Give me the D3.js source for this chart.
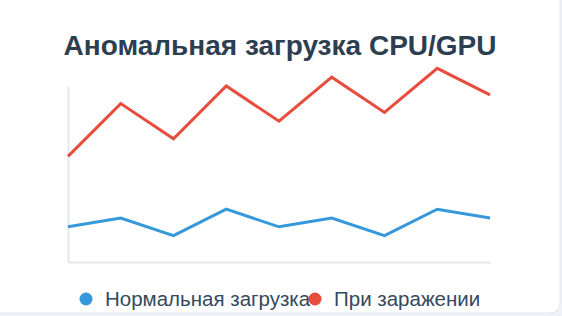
<!DOCTYPE html>
<html lang="ru"><head>
<meta charset="utf-8">
<title>Аномальная загрузка CPU/GPU</title>
<script src="https://cdnjs.cloudflare.com/ajax/libs/d3/7.8.5/d3.min.js"></script>
<style>
  html, body { margin: 0; padding: 0; background: #eef1f5; }
  svg { display: block; font-family: "Liberation Sans", Arial, Helvetica, sans-serif; }
</style>
</head>
<body>
<div id="chart"></div>
<script>
var points = ["1", "2", "3", "4", "5", "6", "7", "8", "9"];
var normal = [20, 25, 15, 30, 20, 25, 15, 30, 25];
var infected = [60, 90, 70, 100, 80, 105, 85, 110, 95];
var seriesNames = ["Нормальная загрузка", "При заражении"];
var seriesColors = ["#3498db", "#e74c3c"];

var W = 562, H = 316;
var svg = d3.select("#chart").append("svg").attr("width", W).attr("height", H);

// card
svg.append("rect").attr("x", -10).attr("y", -10).attr("width", 570).attr("height", 323)
  .attr("rx", 10).attr("fill", "#fff").attr("stroke", "#e3e7ec").attr("stroke-width", 1);

svg.append("text").attr("x", 280).attr("y", 55).attr("text-anchor", "middle")
  .attr("font-size", 28).attr("font-weight", "bold").attr("fill", "#2c3e50")
  .text("Аномальная загрузка CPU/GPU");

var x = d3.scalePoint().domain(points).range([68, 490]);
var y = d3.scaleLinear().domain([0, 100]).range([262, 86]);

svg.append("g").attr("transform", "translate(0," + y(0) + ")")
  .call(d3.axisBottom(x).tickSize(0).tickFormat(""));
svg.append("g").attr("transform", "translate(" + x(points[0]) + ",0)")
  .call(d3.axisLeft(y).tickSize(0).tickFormat("").ticks(0));
svg.selectAll(".domain").attr("stroke", "#e4e8ee").attr("stroke-width", 2);

var line = d3.line().x(function(d, i) { return x(points[i]); }).y(function(d) { return y(d); });
[normal, infected].forEach(function(s, k) {
  svg.append("path").datum(s).attr("d", line).attr("fill", "none")
    .attr("stroke", seriesColors[k]).attr("stroke-width", 3).attr("stroke-linejoin", "miter");
});

// legend
var legX = [86, 315];
seriesNames.forEach(function(n, k) {
  svg.append("text").attr("x", legX[k] + 19).attr("y", 306).attr("font-size", 20.5)
    .attr("fill", "#34495e").text(n);
});
seriesNames.forEach(function(n, k) {
  svg.append("circle").attr("cx", legX[k]).attr("cy", 299).attr("r", 6.5).attr("fill", seriesColors[k]);
});
</script>
</body></html>
